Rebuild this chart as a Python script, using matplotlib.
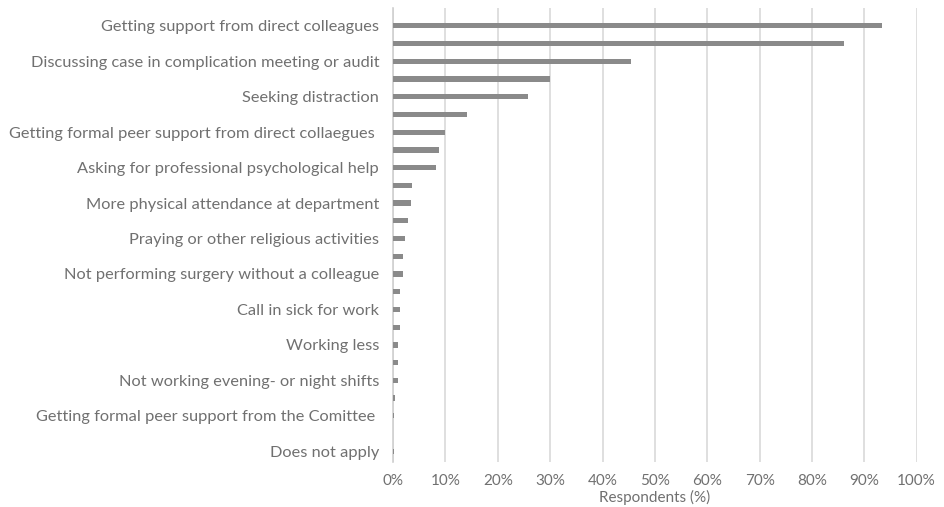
import matplotlib.pyplot as plt
import numpy as np

# Kategori (hanya label yang terlihat pada gambar; sisanya kosong)
categories = [
    "Getting support from direct colleagues", "",
    "Discussing case in complication meeting or audit", "",
    "Seeking distraction", "",
    "Getting formal peer support from direct collaegues ", "",
    "Asking for professional psychological help", "",
    "More physical attendance at department", "",
    "Praying or other religious activities", "",
    "Not performing surgery without a colleague", "",
    "Call in sick for work", "",
    "Working less", "",
    "Not working evening- or night shifts", "",
    "Getting formal peer support from the Comittee ", "",
    "Does not apply",
]
values = [93.3, 86.1, 45.5, 29.9, 25.8, 14.1, 10.0, 8.7, 8.1, 3.7,
          3.5, 2.8, 2.2, 1.9, 1.9, 1.4, 1.4, 1.4, 1.0, 1.0,
          1.0, 0.4, 0.2, 0.0, 0.2]
xticks = np.arange(0, 101, 10)

text_col = '#707070'
plt.rcParams['font.family'] = ['Lato', 'DejaVu Sans']

fig = plt.figure(figsize=(9.45, 5.07), dpi=100)
ax = fig.add_axes([0.416, 0.089, 0.554, 0.895])

y = np.arange(len(values))
ax.barh(y, values, height=0.3, color='#8a8a8a', zorder=3)

ax.set_ylim(len(values) - 0.4, -1.0)
ax.set_xlim(0, 100)
ax.set_xticks(xticks)
ax.set_xticklabels([f"{t}%" for t in xticks])
ax.set_yticks(y)
ax.set_yticklabels(categories)

ax.grid(axis='x', color='#d9d9d9', linewidth=1.2, zorder=0)
for s in ['top', 'right', 'bottom']:
    ax.spines[s].set_visible(False)
ax.spines['left'].set_color('#d0d0d0')
ax.spines['left'].set_linewidth(1.2)

ax.tick_params(axis='y', length=0, colors=text_col, labelsize=11.8, pad=10)
ax.tick_params(axis='x', length=0, colors=text_col, labelsize=11, pad=9)
ax.set_xlabel("Respondents (%)", color=text_col, fontsize=11, labelpad=1)

plt.savefig("out.png", dpi=100)
